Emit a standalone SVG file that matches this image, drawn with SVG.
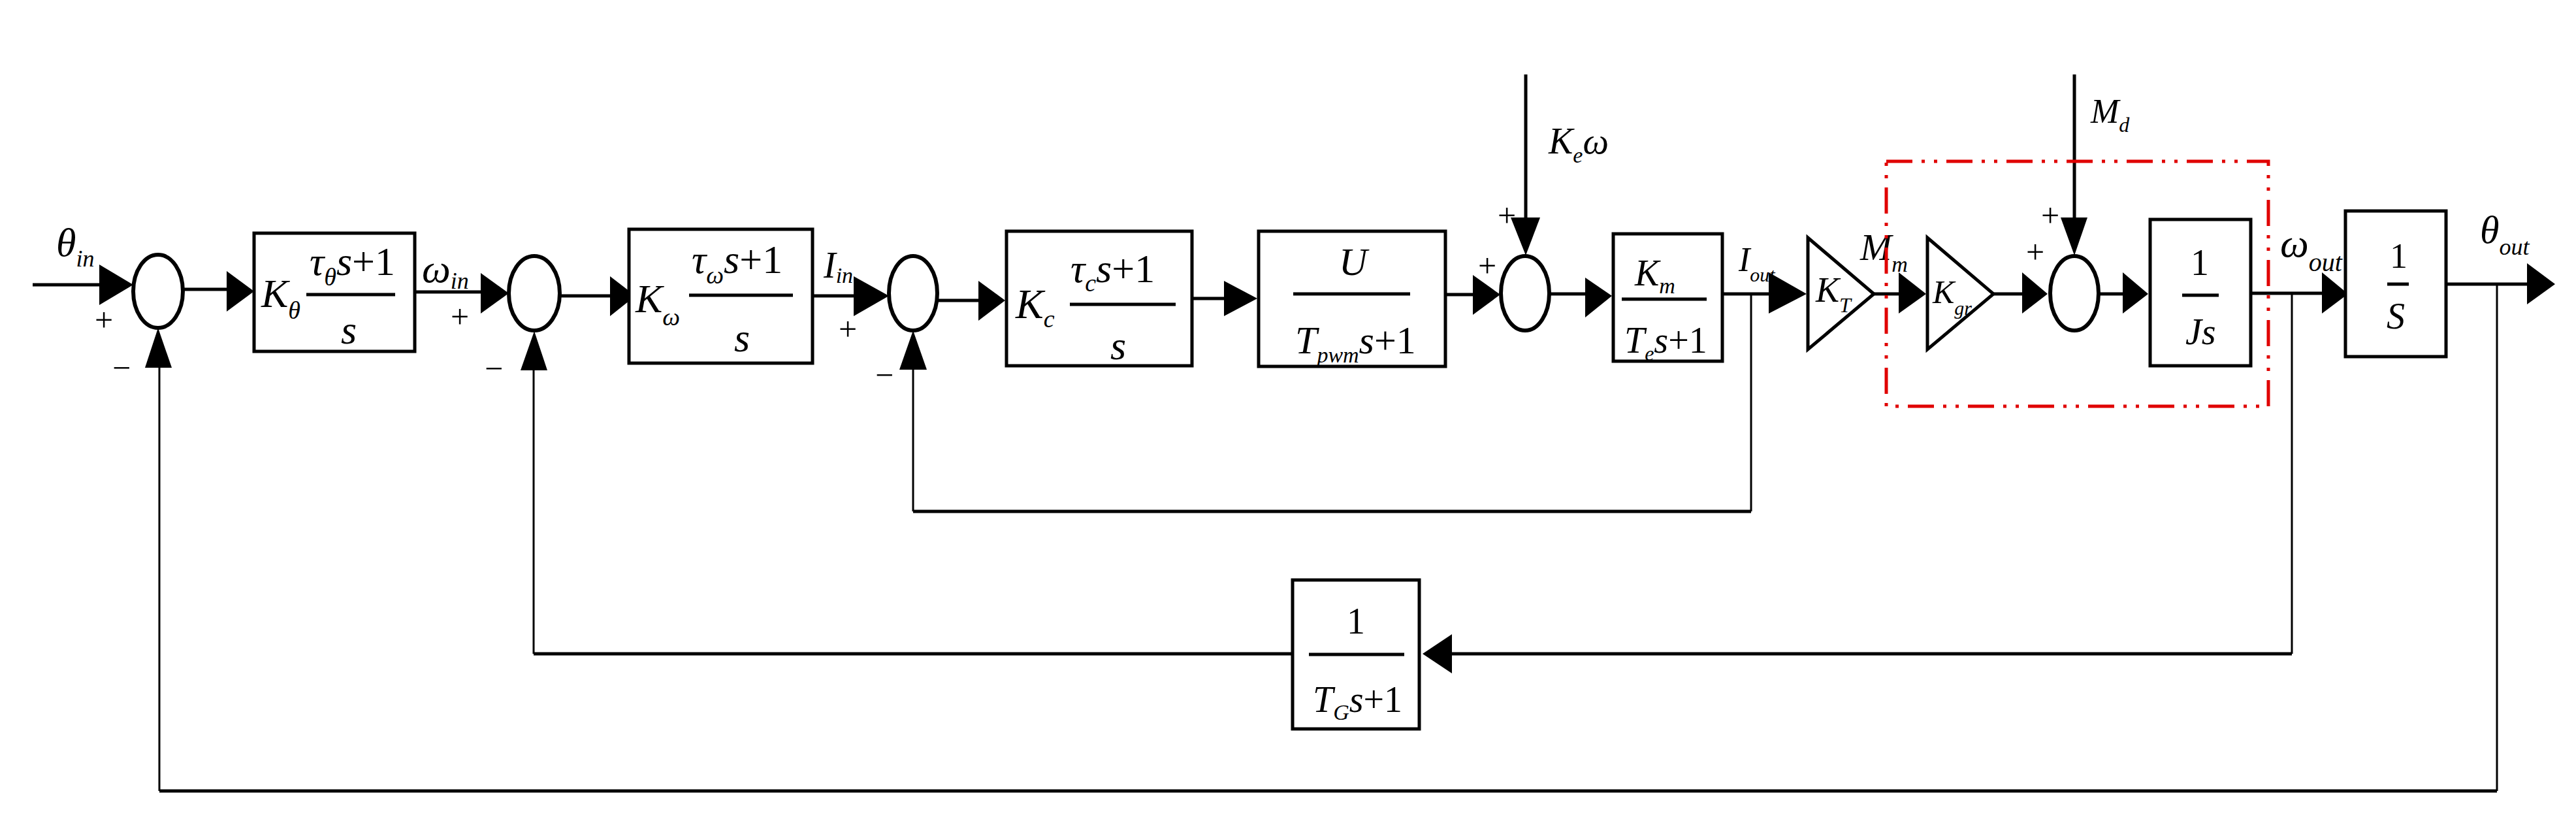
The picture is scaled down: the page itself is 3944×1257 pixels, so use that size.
<svg xmlns="http://www.w3.org/2000/svg" width="3944" height="1257" viewBox="0 0 3944 1257">
<style>
.b{fill:#fff;stroke:#000;stroke-width:5}
.c{fill:none;stroke:#000;stroke-width:6}
.l{fill:none;stroke:#000;stroke-width:5}
.t{fill:none;stroke:#000;stroke-width:3}
.a{fill:#000}
.f{stroke:#000;stroke-width:5}
text{font-family:"Liberation Serif","Times New Roman",serif;font-style:italic;fill:#000}
.n{font-style:normal}
.s{font-family:"Liberation Serif",serif;font-style:normal;font-size:50px}
</style>
<rect width="3944" height="1257" fill="#fff"/>
<g id="connectors">
<path class="l" d="M50 436H152"/>
<path class="l" d="M280 443H347"/>
<path class="l" d="M635 447H736"/>
<path class="l" d="M857 453H934"/>
<path class="l" d="M1244 453H1307"/>
<path class="l" d="M1436 460H1498"/>
<path class="l" d="M1825 457H1874"/>
<path class="l" d="M2213 451H2255"/>
<path class="l" d="M2336 114V333"/>
<path class="l" d="M2372 450H2427"/>
<path class="l" d="M2637 450H2708"/>
<path class="l" d="M2869 450H2907"/>
<path class="l" d="M3052 450H3096"/>
<path class="l" d="M3176 114V333"/>
<path class="l" d="M3213 450H3250"/>
<path class="l" d="M3446 449H3555"/>
<path class="l" d="M3745 435H3869"/>
<path class="t" d="M2681 450V783"/>
<path class="l" d="M2681 783H1398"/>
<path class="t" d="M1398 783V566"/>
<path class="t" d="M3509 449V1001"/>
<path class="l" d="M3509 1001H2223"/>
<path class="l" d="M1979 1001H817"/>
<path class="t" d="M817 1001V567"/>
<path class="t" d="M3823 435V1211"/>
<path class="l" d="M3823 1211H244"/>
<path class="t" d="M244 1211V563"/>
<polygon class="a" points="204,436 152,405 152,467"/>
<polygon class="a" points="389,446 347,415 347,477"/>
<polygon class="a" points="779,449 736,418 736,480"/>
<polygon class="a" points="973,453 934,423 934,484"/>
<polygon class="a" points="1361,453 1307,423 1307,484"/>
<polygon class="a" points="1539,460 1498,430 1498,491"/>
<polygon class="a" points="1925,457 1874,430 1874,484"/>
<polygon class="a" points="2297,451 2255,421 2255,482"/>
<polygon class="a" points="2336,391 2313,333 2358,333"/>
<polygon class="a" points="2468,453 2427,425 2427,486"/>
<polygon class="a" points="2766,450 2708,417 2708,480"/>
<polygon class="a" points="2949,450 2907,417 2907,480"/>
<polygon class="a" points="3135,450 3096,417 3096,480"/>
<polygon class="a" points="3176,391 3155,333 3196,333"/>
<polygon class="a" points="3289,450 3250,417 3250,480"/>
<polygon class="a" points="3595,450 3555,417 3555,480"/>
<polygon class="a" points="3912,435 3869,403 3869,466"/>
<polygon class="a" points="2178,1001 2223,971 2223,1031"/>
<polygon class="a" points="242,502 222,563 263,563"/>
<polygon class="a" points="818,507 797,567 838,567"/>
<polygon class="a" points="1398,506 1377,566 1419,566"/>
</g>
<g id="labels">
<text x="86" y="392" font-size="62">θ<tspan dy="16" font-size="36">in</tspan></text>
<text x="646" y="432" font-size="62">ω<tspan dy="10" font-size="36">in</tspan></text>
<text x="1261" y="425" font-size="56">I<tspan dy="8" font-size="34">in</tspan></text>
<text x="2371" y="235" font-size="56">K<tspan dy="14" font-size="34">e</tspan><tspan dy="-14">ω</tspan></text>
<text x="2662" y="415" font-size="52">I<tspan dy="16" font-size="30">out</tspan></text>
<text x="2848" y="398" font-size="58">M<tspan dy="18" font-size="34">m</tspan></text>
<text x="3201" y="188" font-size="52">M<tspan dy="14" font-size="32">d</tspan></text>
<text x="3491" y="393" font-size="62">ω<tspan dy="22" font-size="40">out</tspan></text>
<text x="3797" y="372" font-size="60">θ<tspan dy="18" font-size="36">out</tspan></text>
<text class="s" x="145" y="507">+</text>
<text class="s" x="690" y="502">+</text>
<text class="s" x="1284" y="521">+</text>
<text class="s" x="2263" y="424">+</text>
<text class="s" x="2293" y="347">+</text>
<text class="s" x="3102" y="403">+</text>
<text class="s" x="3125" y="347">+</text>
<text class="s" x="172" y="580">−</text>
<text class="s" x="742" y="581">−</text>
<text class="s" x="1340" y="591">−</text>
</g>
<g id="sum1"><ellipse class="c" cx="242" cy="446" rx="38" ry="56"/></g>
<g id="sum2"><ellipse class="c" cx="818" cy="449" rx="39" ry="57"/></g>
<g id="sum3"><ellipse class="c" cx="1398" cy="449" rx="37" ry="57"/></g>
<g id="sum4"><ellipse class="c" cx="2335" cy="449" rx="37" ry="57"/></g>
<g id="sum5"><ellipse class="c" cx="3176" cy="449" rx="37" ry="57"/></g>
<g id="box1">
<rect class="b" x="389" y="357" width="246" height="181"/>
<text x="400" y="470" font-size="62">K<tspan dy="18" font-size="38">θ</tspan></text>
<text x="474" y="421" font-size="62">τ<tspan dy="16" font-size="38">θ</tspan><tspan dy="-16">s</tspan><tspan class="n">+1</tspan></text>
<path class="f" d="M469 451H605"/>
<text x="522" y="526" font-size="62">s</text>
</g>
<g id="box2">
<rect class="b" x="963" y="351" width="281" height="205"/>
<text x="973" y="478" font-size="62">K<tspan dy="20" font-size="38">ω</tspan></text>
<text x="1059" y="418" font-size="62">τ<tspan dy="16" font-size="38">ω</tspan><tspan dy="-16">s</tspan><tspan class="n">+1</tspan></text>
<path class="f" d="M1055 452H1214"/>
<text x="1124" y="538" font-size="62">s</text>
</g>
<g id="box3">
<rect class="b" x="1541" y="354" width="284" height="206"/>
<text x="1555" y="487" font-size="64">K<tspan dy="14" font-size="38">c</tspan></text>
<text x="1639" y="432" font-size="62">τ<tspan dy="14" font-size="38">c</tspan><tspan dy="-14">s</tspan><tspan class="n">+1</tspan></text>
<path class="f" d="M1638 466H1800"/>
<text x="1700" y="550" font-size="62">s</text>
</g>
<g id="box4">
<rect class="b" x="1927" y="354" width="286" height="207"/>
<text x="2050" y="421" font-size="60">U</text>
<path class="f" d="M1980 450H2159"/>
<text x="1983" y="541" font-size="60">T<tspan dy="14" font-size="34">pwm</tspan><tspan dy="-14">s</tspan><tspan class="n">+1</tspan></text>
</g>
<g id="box5">
<rect class="b" x="2470" y="358" width="167" height="195"/>
<text x="2503" y="437" font-size="56">K<tspan dy="12" font-size="34">m</tspan></text>
<path class="f" d="M2483 458H2613"/>
<text x="2487" y="540" font-size="56">T<tspan dy="12" font-size="32">e</tspan><tspan dy="-12">s</tspan><tspan class="n">+1</tspan></text>
</g>
<g id="KT">
<polygon class="c" points="2768,364 2869,450 2768,535" style="stroke-width:5"/>
<text x="2780" y="462" font-size="54">K<tspan dy="16" font-size="32">T</tspan></text>
</g>
<g id="Kgr">
<polygon class="c" points="2951,364 3052,450 2951,535" style="stroke-width:5"/>
<text x="2959" y="464" font-size="50">K<tspan dy="18" font-size="30">gr</tspan></text>
</g>
<g id="boxJs">
<rect class="b" x="3292" y="336" width="154" height="224"/>
<text class="n" x="3354" y="421" font-size="56">1</text>
<path class="f" d="M3341 452H3397"/>
<text x="3346" y="527" font-size="56">Js</text>
</g>
<g id="boxS">
<rect class="b" x="3591" y="323" width="154" height="223"/>
<text class="n" x="3659" y="410" font-size="54">1</text>
<path class="f" d="M3655 435H3688"/>
<text x="3654" y="503" font-size="56">S</text>
</g>
<g id="boxTG">
<rect class="b" x="1979" y="888" width="194" height="228"/>
<text class="n" x="2062" y="970" font-size="56">1</text>
<path class="f" d="M2004 1002H2150"/>
<text x="2010" y="1090" font-size="56">T<tspan dy="12" font-size="34">G</tspan><tspan dy="-12">s</tspan><tspan class="n">+1</tspan></text>
</g>
<g id="group">
<rect x="2888" y="247" width="585" height="375" fill="none" stroke="#e00000" stroke-width="5" stroke-dasharray="40 14 5 14 5 14"/>
</g>
</svg>
